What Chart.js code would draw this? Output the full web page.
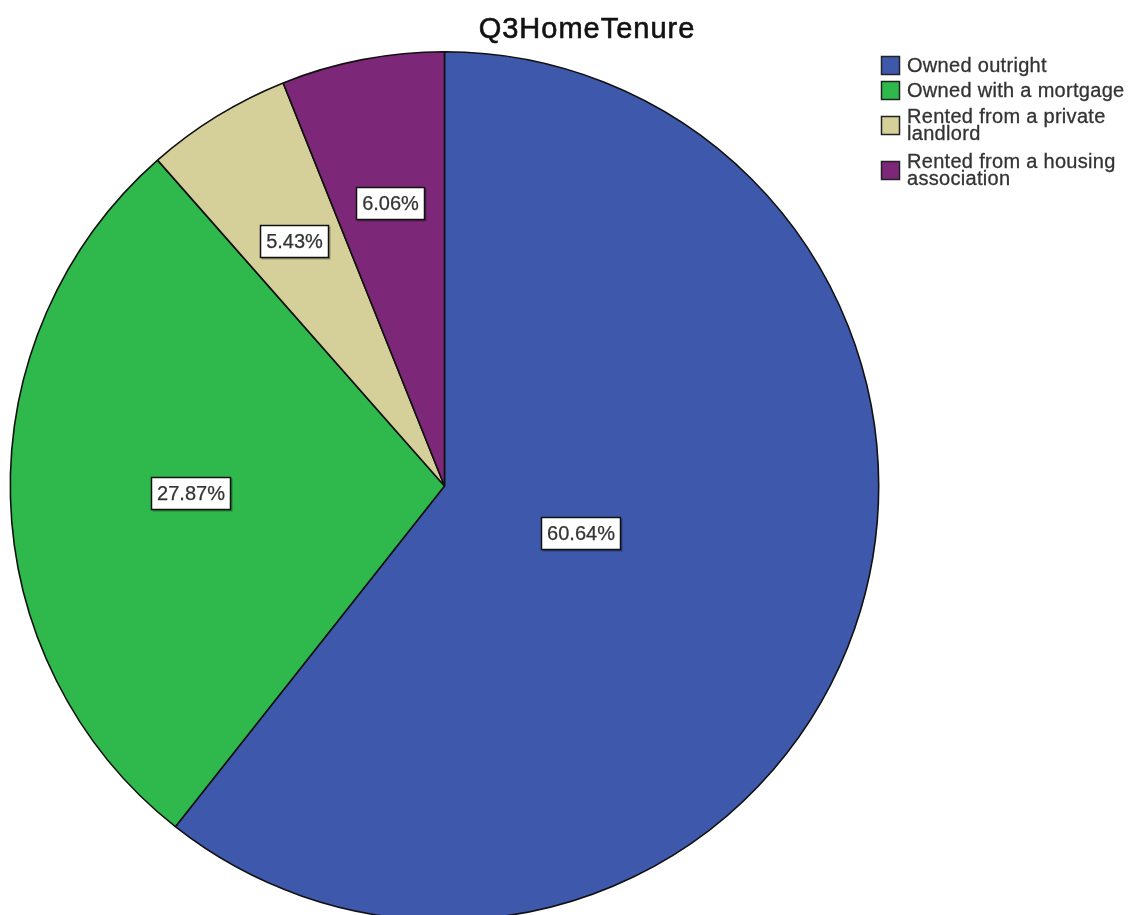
<!DOCTYPE html>
<html>
<head>
<meta charset="utf-8">
<title>Q3HomeTenure</title>
<script src="https://cdn.jsdelivr.net/npm/chart.js@4.4.1/dist/chart.umd.min.js"></script>
<style>
  html, body { margin: 0; padding: 0; background: #fff; overflow: hidden; }
  #wrap { width: 1129px; height: 915px; overflow: hidden; }
  canvas { display: block; }
</style>
</head>
<body>
<div id="wrap"><canvas id="pie" width="1129" height="930"></canvas></div>
<script>
const chartTitle = 'Q3HomeTenure';
const categories = [
  'Owned outright',
  'Owned with a mortgage',
  'Rented from a private landlord',
  'Rented from a housing association'
];
const percentages = [60.64, 27.87, 5.43, 6.06];
const sliceColors = ['#3e58ac', '#2fb84b', '#d5cf99', '#7d2779'];

const FONT = '"Liberation Sans", Arial, sans-serif';

// draw text a touch heavier, like the upscaled SPSS output
function heavyText(ctx, text, x, y, weight) {
  ctx.lineWidth = weight;
  ctx.strokeStyle = ctx.fillStyle;
  ctx.strokeText(text, x, y);
  ctx.fillText(text, x, y);
}

// Title drawn by hand so letter spacing can be tuned
const titlePlugin = {
  id: 'spssTitle',
  afterDraw(chart) {
    const ctx = chart.ctx;
    ctx.save();
    ctx.font = '29px ' + FONT;
    ctx.letterSpacing = '1px';
    ctx.fillStyle = '#111';
    ctx.textAlign = 'center';
    ctx.textBaseline = 'alphabetic';
    heavyText(ctx, chartTitle, 587, 38, 0.6);
    ctx.restore();
  }
};

// Percentage boxes placed at the centroid of each slice
const sliceLabelPlugin = {
  id: 'sliceLabels',
  afterDatasetsDraw(chart) {
    const ctx = chart.ctx;
    const meta = chart.getDatasetMeta(0);
    ctx.save();
    ctx.font = '20px ' + FONT;
    ctx.textAlign = 'center';
    ctx.textBaseline = 'middle';
    meta.data.forEach((arc, i) => {
      const { x, y, startAngle, endAngle, outerRadius } =
        arc.getProps(['x', 'y', 'startAngle', 'endAngle', 'outerRadius'], true);
      const theta = endAngle - startAngle;
      const mid = (startAngle + endAngle) / 2;
      const dist = 4 * outerRadius * Math.sin(theta / 2) / (3 * theta);
      const cx = x + Math.cos(mid) * dist;
      const cy = y + Math.sin(mid) * dist;
      const text = percentages[i].toFixed(2) + '%';
      const w = Math.round(ctx.measureText(text).width + 11);
      const h = 32;
      const bx = Math.round(cx - w / 2) + 0.5;
      const by = Math.round(cy - h / 2) + 0.5;
      ctx.fillStyle = 'rgba(0,0,0,0.3)';
      ctx.fillRect(bx + 1, by + 1, w + 1, h + 1);
      ctx.fillStyle = '#fff';
      ctx.fillRect(bx, by, w, h);
      ctx.strokeStyle = '#111';
      ctx.lineWidth = 1.5;
      ctx.strokeRect(bx, by, w, h);
      ctx.fillStyle = '#333';
      heavyText(ctx, text, bx + w / 2, by + h / 2 + 1, 0.25);
    });
    ctx.restore();
  }
};

// Legend on the right with wrapped labels
const legendPlugin = {
  id: 'spssLegend',
  afterDraw(chart) {
    const ctx = chart.ctx;
    const left = 881;
    const boxSize = 19;
    const textX = 907;
    const maxWidth = 222;
    const rowH = 20;
    const lineGap = 16.5;
    let top = 55;
    ctx.save();
    ctx.font = '20px ' + FONT;
    ctx.letterSpacing = '0.3px';
    ctx.textBaseline = 'middle';
    categories.forEach((label, i) => {
      // wrap words
      const words = label.split(' ');
      const lines = [];
      let cur = '';
      words.forEach(wd => {
        const test = cur ? cur + ' ' + wd : wd;
        if (cur && ctx.measureText(test).width > maxWidth) {
          lines.push(cur);
          cur = wd;
        } else {
          cur = test;
        }
      });
      lines.push(cur);

      const itemH = lines.length * rowH;
      const center = top + itemH / 2;
      const boxTop = Math.round(center - boxSize / 2);
      ctx.fillStyle = sliceColors[i];
      ctx.fillRect(left, boxTop, boxSize, boxSize);
      ctx.strokeStyle = '#222';
      ctx.lineWidth = 1.5;
      ctx.strokeRect(left + 0.5, boxTop + 0.5, boxSize - 1, boxSize - 1);

      ctx.fillStyle = '#333';
      const firstY = center - (lines.length - 1) * lineGap / 2;
      lines.forEach((ln, k) => {
        heavyText(ctx, ln, textX, firstY + k * lineGap + 1, 0.3);
      });
      top += itemH + 5;
    });
    ctx.restore();
  }
};

const ctx = document.getElementById('pie');
new Chart(ctx, {
  type: 'pie',
  data: {
    labels: categories,
    datasets: [{
      data: percentages,
      backgroundColor: sliceColors,
      borderColor: '#111',
      borderWidth: 1.6
    }]
  },
  options: {
    responsive: false,
    animation: false,
    layout: { padding: { left: 9, right: 249, top: 51, bottom: 9 } },
    plugins: {
      legend: { display: false },
      title: { display: false },
      tooltip: { enabled: false }
    }
  },
  plugins: [sliceLabelPlugin, titlePlugin, legendPlugin]
});
</script>
</body>
</html>
